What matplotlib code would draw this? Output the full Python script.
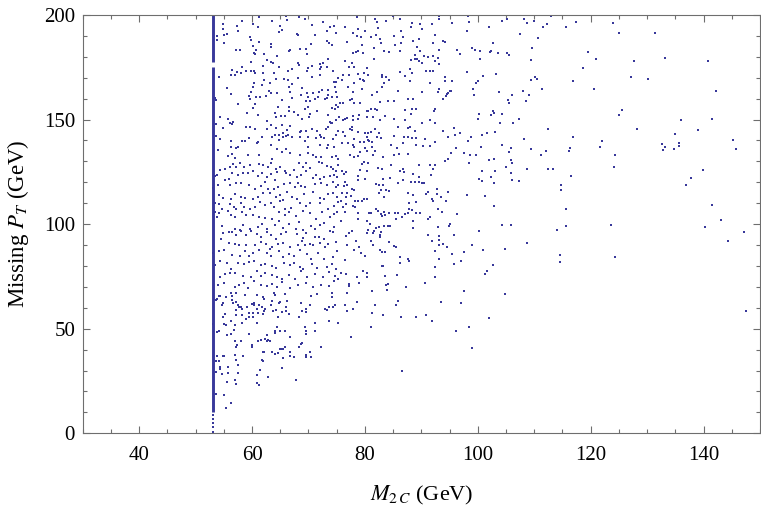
import numpy as np
import matplotlib
matplotlib.use("Agg")
import matplotlib.pyplot as plt
from matplotlib.ticker import MultipleLocator

plt.rcParams['font.family'] = ['Liberation Serif', 'DejaVu Serif']
plt.rcParams['mathtext.fontset'] = 'stix'

# ---- data (M2C [GeV], missing PT [GeV]) ----
# events sitting on the kinematic endpoint M2C = 53 GeV (dense vertical band)
endpoint_m2c = 53.0
endpoint_bands = [(10.3, 175.0), (177.7, 200.0)]
endpoint_low_pt = [0.8, 2.9, 4.8, 6.7, 8.7]

pts_top_left = [
 (54.4,200.8),(56.0,200.5),(56.7,200.5),(61.3,199.2),(63.4,200.8),(66.1,199.7),(68.3,198.9),(69.4,198.3),(71.4,200.8),(74.4,200.0),(74.9,200.5),
 (54.9,195.7),(57.4,194.7),(58.2,197.3),(60.1,195.7),(61.1,194.1),(63.6,197.0),(65.0,194.9),(66.2,197.6),(70.7,195.1),(72.5,196.5),(73.9,194.4),(74.5,194.7),
 (54.9,193.1),(53.8,190.0),(55.1,190.6),(55.5,190.9),(57.5,192.5),(59.7,189.6),(64.8,191.9),(65.3,192.8),(67.9,190.8),(68.2,190.3),(71.1,190.3),(73.3,192.5),(74.9,191.2),
 (53.8,188.0),(55.1,186.6),(59.9,188.0),(61.3,186.9),(63.3,186.1),(73.2,187.4),(73.7,186.8),
 (60.1,185.0),(57.1,183.3),(57.8,183.1),(60.3,182.0),(60.7,183.3),(62.1,181.5),(63.3,184.5),(64.4,180.4),(66.6,182.6),(66.8,183.4),(68.5,183.6),(69.6,183.9),(69.8,181.3),(70.5,186.0),(74.2,185.7),
 (59.9,177.7),(60.6,181.2),(62.7,178.6),(63.4,177.4),(63.7,176.9),(68.2,176.9),(68.3,176.2),(69.9,174.6),(72.1,176.6),(72.6,177.0),(73.5,179.0),
 (58.3,175.0),(57.4,172.7),(56.4,173.5),(58.1,172.1),(58.9,173.1),(59.8,173.1),(60.3,173.4),(60.6,172.1),(61.9,175.6),(62.0,172.4),(63.9,172.4),(64.8,175.0),(66.3,173.4),(67.0,174.3),(69.8,173.4),(70.7,175.6),(72.0,174.3),(72.2,175.3),(73.2,175.3),(74.4,173.4),
 (54.2,170.2),(55.5,164.9),(56.2,171.1),(57.0,171.1),(62.1,168.9),(63.1,167.6),(64.2,169.5),(65.7,169.5),(66.3,168.9),(67.0,167.0),(66.6,165.7),(68.2,169.9),(70.7,170.3),(72.1,171.1),(74.6,168.0),(74.9,168.1),(75.3,169.9),
 (56.3,162.2),(59.8,163.2),(60.2,165.4),(60.3,167.3),(61.8,166.5),(63.0,163.8),(63.3,162.8),(64.4,162.5),(66.7,163.2),(68.9,165.1),(69.8,162.5),(70.8,162.5),(71.8,163.2),(72.4,164.1),(73.5,164.1),(74.7,165.4),(74.9,163.2),
 (59.4,161.3),(59.6,159.7),(60.7,160.6),(61.4,160.6),(62.4,161.3),(65.3,159.3),(67.0,160.3),(68.6,161.6),(69.5,159.0),(69.9,160.6),(70.2,159.0),(71.2,160.0),(71.6,160.6),(73.0,160.0),(73.3,160.3),(73.5,161.9),(74.2,160.6),(75.1,160.6),(75.5,158.1),
 (53.4,160.1),(53.6,159.3),(57.6,157.4),(60.1,155.5),(60.6,157.4),(64.6,155.8),(66.6,156.1),(69.4,154.9),(69.9,156.1),(74.1,155.5),(74.7,155.2),(75.2,155.8),(74.9,156.9),
 (54.4,151.4),(53.6,147.9),(55.8,150.4),(56.1,148.2),(56.4,147.9),(56.7,148.8),(59.1,153.0),(61.1,152.0),(62.6,149.1),(64.1,153.0),(64.3,151.4),(65.2,151.7),(65.9,151.7),(66.5,153.9),(67.5,153.6),(68.2,152.0),(68.9,150.1),(70.1,151.4),(70.2,152.6),(71.5,154.2),(73.4,152.3),(73.8,148.8),(74.0,148.2),(74.8,149.8),(75.4,151.0),
 (54.9,146.0),(59.0,146.6),(59.7,146.3),(60.6,145.3),(62.6,145.3),(63.4,147.2),(64.2,146.0),(64.8,142.8),(65.3,147.5),(65.4,143.4),(66.2,145.0),(66.3,142.8),(66.7,146.9),(68.5,144.0),(68.7,144.3),(69.5,144.3),(70.0,141.5),(70.6,145.6),(71.5,144.7),(72.0,142.8),(73.1,145.3),(73.5,146.3),(74.2,148.2),(75.2,144.7),
 (53.6,142.1),(54.3,140.8),(56.2,139.6),(58.2,139.6),(58.7,139.6),(59.5,141.2),(61.1,139.2),(61.7,141.8),(63.5,141.8),(64.0,142.8),(64.8,140.2),(65.5,141.5),(66.0,142.1),(67.0,141.5),(68.5,141.5),(69.4,139.6),(71.3,141.2),(72.2,141.8),(72.7,141.2),(73.4,138.0),(74.4,140.5),(74.9,142.8),
 (54.0,135.4),(56.2,137.0),(57.1,136.4),(57.5,136.7),(60.9,138.6),(63.3,137.6),(64.4,136.1),(66.1,136.1),(70.0,136.7),(72.1,138.0),(73.2,136.4),(74.6,136.7),
]

pts_top_mid = [
 (78.6,198.9),(80.1,200.2),(81.7,197.9),(82.1,196.7),(83.2,200.2),(83.8,197.0),(84.9,199.5),(86.2,197.9),(88.4,196.0),(88.2,194.1),(89.0,200.8),(89.7,200.5),(89.7,195.7),(90.1,193.5),(91.8,200.8),(91.9,195.7),(92.3,200.2),(93.2,199.5),(93.2,198.3),(95.4,196.3),(98.2,199.5),(98.5,196.7),(98.1,192.5),
 (76.4,194.4),(77.9,191.2),(78.6,190.0),(78.8,193.1),(80.0,192.2),(79.3,189.3),(76.8,187.1),(79.4,185.8),(81.1,189.3),(81.9,190.3),(82.4,193.8),(82.6,188.7),(82.9,186.5),(81.6,184.2),(85.2,190.0),(86.4,192.2),(86.7,189.3),(86.4,186.8),(85.3,185.8),(88.6,187.7),(89.5,188.7),(92.4,190.3),(92.1,186.5),(93.8,187.7),(94.1,187.1),(93.2,183.3),(89.2,184.9),(89.7,182.9),
 (77.8,181.7),(78.4,182.3),(78.8,182.6),(79.7,181.7),(76.4,178.2),(77.7,176.9),(77.2,175.0),(78.0,175.0),(80.3,174.6),(81.6,178.8),(83.4,182.6),(84.3,182.3),(86.3,182.6),(88.8,181.0),(88.2,178.5),(88.9,179.1),(89.3,179.1),(89.5,177.8),(90.4,180.4),(91.1,180.1),(92.1,180.4),(93.0,179.4),(92.4,178.2),(93.1,176.6),(90.1,177.2),(92.1,173.4),(91.5,173.4),(90.8,173.1),(88.0,174.3),(88.3,172.1),(86.2,172.7),(87.1,170.8),(88.0,168.6),
 (96.3,183.3),(96.8,181.3),(98.9,184.2),(99.5,183.3),(98.0,172.7),(99.7,167.6),(100.1,168.3),(99.1,164.4),(99.3,161.6),(95.4,168.6),(94.2,170.2),(94.2,168.3),(91.5,167.3),(93.1,164.8),(93.0,163.2),(94.5,162.2),(95.0,163.8),(95.2,163.8),(94.8,162.8),(94.3,161.3),(93.8,159.7),
 (76.1,171.5),(77.2,171.5),(78.8,171.8),(79.8,172.1),(80.5,171.5),(83.1,171.5),(83.1,170.5),(83.7,170.2),(84.3,168.9),(79.6,168.9),(79.2,169.5),(79.8,168.6),(78.0,167.6),(76.0,168.9),(77.0,165.4),(77.8,163.2),(79.4,164.4),(82.1,163.2),(81.3,161.9),(83.3,167.3),(83.0,165.7),(85.9,163.5),(90.1,163.2),(88.5,159.7),(87.7,160.0),(84.0,158.7),(85.2,158.7),(82.7,158.4),(81.7,155.2),(80.3,154.2),(80.6,154.2),(81.0,154.9),(82.1,154.5),(77.7,160.0),(77.4,159.3),(79.1,157.7),(78.1,157.7),(76.1,157.7),
 (88.3,154.9),(87.1,154.5),(88.2,152.6),(89.1,155.2),(92.4,155.2),(92.2,153.9),(91.6,149.8),(90.2,148.5),(92.4,148.5),(87.1,149.8),(85.1,150.1),(83.6,151.7),(82.6,149.8),(81.4,151.0),(80.3,151.4),(78.9,152.3),(78.8,150.1),(77.9,151.7),(77.9,149.8),(76.1,149.8),(76.5,150.4),(76.8,150.7),
 (77.4,145.6),(77.7,146.3),(77.7,145.0),(76.2,144.0),(76.4,142.1),(78.8,144.0),(80.0,143.4),(80.5,143.4),(81.1,144.0),(81.8,145.3),(82.5,143.4),(82.1,141.8),(82.9,141.2),(80.7,139.6),(80.3,141.8),(80.5,140.2),(81.2,139.2),(79.9,139.2),(79.2,139.2),(78.1,140.5),(77.9,138.0),(78.0,137.0),(77.0,138.9),(76.0,138.9),(80.0,136.4),(81.2,137.0),
 (85.8,146.6),(87.7,145.9),(87.9,146.6),(88.8,144.7),(87.7,141.8),(88.4,141.2),(89.1,141.2),(85.2,142.1),(86.9,141.8),(86.8,138.6),(89.1,138.0),(90.6,140.5),(90.3,137.3),(91.6,137.3),(92.4,139.2),(93.8,144.3),(94.7,141.5),(95.8,146.0),(95.9,142.8),(96.9,143.4),(98.2,139.6),(98.8,141.8),(96.1,136.4),(100.2,152.6),(100.1,150.4),(84.7,138.0),(85.7,136.4),
]

pts_mid_left = [
 (55.7,132.6),(56.4,133.5),(56.9,131.6),(59.3,133.2),(61.3,133.2),(63.6,131.0),(65.3,134.5),(66.7,134.2),(68.5,133.2),(70.0,133.9),(70.8,132.9),(71.4,131.9),(72.2,132.3),(74.1,132.3),(74.9,132.6),(75.3,131.3),
 (54.4,125.9),(55.2,126.2),(56.1,127.5),(56.7,128.8),(57.2,127.2),(57.8,129.1),(58.5,127.5),(59.6,128.1),(61.3,128.8),(61.9,128.1),(62.9,127.2),(63.4,129.1),(64.3,126.5),(64.9,127.5),(65.9,125.6),(67.5,125.9),(68.3,129.4),(69.1,127.2),(69.6,129.1),(70.3,126.8),(71.8,129.7),(72.4,129.1),(73.2,127.8),(74.0,127.5),(74.4,126.2),(75.2,128.4),(74.9,125.2),
 (53.4,123.0),(53.8,123.6),(55.2,121.1),(56.0,121.7),(56.5,124.3),(57.6,123.6),(58.4,124.6),(59.3,124.3),(60.2,125.2),(61.1,123.0),(61.7,124.3),(62.6,122.4),(63.3,124.0),(64.1,121.1),(64.4,124.9),(66.0,124.6),(66.8,123.6),(68.0,122.4),(68.7,123.6),(69.5,125.6),(70.8,122.1),(71.4,123.6),(72.0,121.4),(72.8,122.4),(73.8,123.0),(74.5,123.6),(75.1,122.4),
 (53.1,117.3),(54.0,118.5),(56.1,118.9),(57.2,119.5),(58.0,119.8),(59.4,118.9),(60.6,116.9),(61.5,118.2),(62.3,120.1),(62.9,116.9),(63.9,116.6),(64.6,117.9),(65.6,119.2),(66.8,119.8),(67.6,117.9),(68.1,119.5),(68.7,118.2),(69.3,117.6),(71.2,119.2),(72.2,119.8),(73.2,118.9),(74.4,120.1),(74.9,117.6),(75.3,118.5),
 (54.1,114.1),(54.8,112.5),(56.2,111.8),(57.0,114.4),(58.0,113.1),(58.8,112.5),(60.2,112.2),(61.1,112.8),(62.0,114.7),(63.2,115.0),(64.2,113.1),(65.0,113.8),(65.5,111.5),(66.2,115.4),(67.0,113.1),(68.0,111.8),(69.2,114.4),(70.8,115.4),(72.0,112.5),(72.8,111.8),(73.5,114.4),(74.4,114.7),(75.1,113.1),
 (53.5,109.9),(54.2,109.6),(54.7,107.4),(56.1,109.6),(56.8,108.3),(57.2,107.4),(58.0,109.9),(58.5,108.3),(59.7,107.1),(60.6,108.3),(61.4,110.6),(62.3,109.0),(63.3,109.9),(63.9,108.0),(64.9,110.9),(65.9,107.1),(66.9,107.7),(68.5,109.9),(69.5,108.7),(70.2,109.9),(72.1,110.3),(73.5,107.4),(74.5,108.7),(75.2,110.6),
 (53.4,105.8),(53.8,103.5),(54.2,105.1),(55.7,106.1),(56.3,104.2),(56.9,103.2),(58.3,105.8),(59.0,104.5),(60.2,104.2),(61.3,103.5),(62.3,102.9),(63.6,102.3),(64.7,105.8),(65.9,104.2),(66.5,105.8),(67.8,103.9),(69.0,106.4),(70.2,105.1),(71.4,102.6),(72.4,105.8),(73.8,103.5),(75.1,105.8),(74.6,104.8),
 (54.7,99.1),(56.9,97.8),(57.8,97.2),(58.4,99.7),(59.6,97.5),(61.1,98.8),(61.8,100.0),(62.6,97.8),(64.1,99.4),(64.8,101.6),(65.5,98.1),(66.6,100.0),(67.8,97.8),(68.3,101.0),(69.0,97.2),(70.5,99.1),(71.1,97.8),(72.0,99.4),(72.7,100.4),(73.9,96.9),(74.6,98.5),
 (54.9,95.9),(56.0,96.2),(56.5,96.2),(57.1,94.6),(58.1,96.5),(59.0,94.6),(59.8,96.5),(60.8,95.3),(61.6,93.7),(62.6,96.2),(63.4,94.6),(64.3,93.0),(65.2,95.3),(66.0,96.2),(67.9,95.3),(69.0,93.3),(69.6,95.9),(71.2,93.7),(71.9,93.7),(72.7,92.7),(74.4,96.2),
 (54.5,92.7),(56.0,90.8),(56.9,90.5),(57.7,89.8),(59.0,90.1),(60.6,89.8),(61.5,91.4),(62.4,90.5),(63.1,88.2),(63.6,89.2),(64.6,90.5),(65.5,91.1),(66.7,89.2),(68.1,89.8),(68.8,91.8),(69.4,90.1),(70.2,90.5),(70.8,89.8),(72.0,91.1),(73.0,88.9),(73.5,90.5),(74.9,91.4),
 (53.1,86.0),(54.1,87.3),(55.0,87.6),(56.4,85.4),(57.8,85.0),(58.7,87.3),(59.5,84.7),(60.2,86.0),(61.3,87.6),(62.6,86.3),(63.4,85.0),(64.7,87.0),(65.5,84.4),(66.6,85.7),(67.4,84.7),(68.5,87.6),(69.8,85.7),(70.5,83.1),(71.6,86.0),(72.7,83.5),(74.4,84.1),(75.1,87.0),
 (53.4,80.6),(54.3,82.2),(55.5,81.5),(56.3,78.6),(57.6,81.2),(58.5,80.9),(59.5,81.9),(60.4,82.5),(61.5,80.3),(62.3,80.9),(63.5,79.9),(64.3,79.0),(65.7,81.2),(66.8,80.3),(67.4,81.5),(68.5,79.6),(69.0,78.7),(70.6,80.9),(71.5,79.0),(73.2,79.3),(74.1,80.9),(74.8,78.7),
 (54.3,74.9),(55.2,76.1),(56.1,76.8),(57.0,76.4),(58.4,75.2),(59.8,74.9),(60.8,77.4),(61.6,75.2),(62.3,76.8),(63.6,75.8),(64.4,74.5),(65.3,73.6),(66.5,75.8),(67.6,73.6),(68.6,77.4),(69.8,74.5),(71.1,76.1),(72.5,74.9),(73.7,77.1),(74.7,75.2),(75.3,73.6),
 (54.0,70.7),(55.0,72.0),(56.9,70.1),(57.7,71.0),(58.5,72.0),(59.3,69.7),(60.4,72.6),(61.5,70.7),(62.6,70.4),(63.5,71.6),(64.4,70.1),(65.3,72.3),(66.7,69.7),(68.1,71.0),(69.6,72.0),(70.8,70.1),(72.2,71.0),(73.7,70.4),(74.5,72.9),
]

pts_mid_mid = [
 (77.3,132.9),(78.0,132.3),(78.8,132.6),(79.2,134.5),(80.4,134.8),(81.4,132.9),(81.7,134.8),(83.2,132.3),(85.2,132.9),(86.0,133.5),(87.6,133.5),(95.2,134.2),(97.5,134.2),(98.7,133.2),(99.7,133.2),
 (79.4,128.8),(79.8,129.7),(80.6,129.1),(82.4,126.8),(83.1,126.2),(84.6,128.1),(89.6,128.4),(91.5,128.1),(92.5,128.4),(92.1,126.5),(94.8,131.3),(94.1,130.0),(98.4,129.4),
 (76.0,125.6),(76.6,124.9),(76.3,123.9),(79.1,125.9),(80.4,125.2),(86.8,126.5),(86.2,125.6),(87.0,124.9),(78.7,123.0),(78.8,121.1),(80.1,121.7),(83.2,121.7),(84.4,122.1),(88.5,123.9),(89.6,122.7),(91.7,123.6),(100.2,121.4),
 (76.5,120.1),(76.3,118.2),(76.8,118.5),(82.0,119.2),(82.5,118.9),(83.2,118.9),(85.9,119.8),(86.8,121.1),(88.2,120.1),(88.9,120.1),(89.5,120.1),(90.1,119.5),(90.4,119.8),(92.8,116.6),(92.7,114.4),(91.1,115.4),(90.9,114.4),(94.8,115.4),(98.1,114.1),
 (76.0,115.0),(76.8,115.0),(77.7,116.6),(78.1,116.3),(76.6,113.1),(77.5,113.4),(75.8,111.2),(78.3,110.9),(78.8,111.2),(79.4,110.9),(79.8,112.2),(80.3,112.2),(82.5,115.0),(82.9,116.3),(83.8,116.3),(84.3,115.9),(83.4,113.1),(87.7,115.0),(89.1,110.6),(88.5,113.8),(87.8,109.9),(91.9,112.2),(92.1,111.2),(93.4,113.1),(94.3,110.9),
 (76.7,109.6),(76.1,108.3),(77.9,108.7),(78.3,108.0),(76.5,105.8),(78.7,105.1),(80.7,105.5),(81.0,105.5),(82.0,107.4),(82.4,106.4),(82.9,104.8),(83.3,105.8),(83.6,104.2),(83.0,103.9),(84.3,105.1),(85.3,105.1),(85.9,105.1),(86.5,103.5),(87.1,104.8),(87.7,105.1),(87.8,107.4),(88.3,106.7),(89.0,105.5),(89.8,105.1),(91.2,102.6),(91.6,103.2),(93.0,107.4),(93.6,105.8),(96.3,104.8),
 (75.7,101.6),(78.7,102.6),(80.4,101.6),(80.9,100.0),(80.6,97.2),(80.3,95.9),(81.6,96.9),(81.4,95.9),(81.9,98.1),(82.5,98.8),(82.9,96.2),(82.7,94.6),(83.4,99.1),(84.0,99.1),(84.5,99.1),(85.5,102.3),(88.6,101.3),(88.6,98.1),(93.0,98.8),(94.9,99.1),(95.1,100.0),(100.2,96.5),(77.1,95.9),(77.7,96.5),(76.7,94.3),
 (78.4,91.8),(79.0,89.2),(78.1,87.6),(76.9,89.8),(81.0,91.8),(81.4,89.8),(82.7,93.7),(84.2,91.4),(85.1,89.5),(85.5,88.9),(91.1,94.6),(91.9,91.8),(93.1,94.3),(93.2,92.4),(93.9,90.5),(94.5,89.2),(93.1,89.8),(95.7,94.9),(92.4,87.3),(97.5,86.6),(99.0,89.8),
 (79.3,86.3),(80.0,84.7),(76.5,82.8),(82.6,87.6),(83.1,86.6),(83.6,86.6),(86.3,84.1),(86.2,81.5),(87.6,83.5),(87.8,82.2),(93.1,83.5),(95.4,85.7),(95.7,80.9),(97.1,82.2),
 (75.7,76.8),(76.6,76.1),(78.6,74.9),(79.7,77.4),(80.4,76.8),(80.4,74.5),(79.0,72.0),(77.1,71.3),(77.2,70.4),(83.0,79.9),(83.2,79.9),(83.6,75.2),(84.0,71.6),(83.8,71.0),(85.6,75.5),(87.3,70.1),(90.6,72.0),(92.4,79.3),(92.4,74.9),
]

pts_low_left = [
 (54.1,65.6),(54.4,65.6),(56.4,65.6),(55.4,65.0),(56.2,67.2),(57.1,67.2),(58.8,66.0),(60.8,66.0),(61.9,65.0),(63.9,67.2),(64.0,66.3),(65.9,66.6),(70.5,65.6),(71.5,66.6),(74.1,67.2),(74.2,65.3),
 (53.6,63.7),(53.8,64.0),(54.9,62.1),(54.7,61.2),(55.2,57.0),(54.9,55.7),(56.5,63.7),(56.7,62.1),(57.2,62.8),(57.5,61.2),(57.7,60.5),(58.0,60.2),(58.2,59.6),(57.1,58.9),(57.2,56.4),(58.2,56.7),(59.1,60.5),(60.0,61.8),(60.3,62.1),(60.4,61.2),(60.9,59.6),(61.3,61.5),(61.7,60.5),(62.1,64.0),(62.3,59.6),(63.4,61.2),(63.5,63.1),(64.7,62.4),(65.0,62.8),(66.0,60.5),(66.2,63.1),(64.3,58.9),(65.3,58.0),(66.1,58.3),(66.6,57.0),(59.5,57.7),(59.4,55.7),(60.1,55.7),(60.2,57.7),(61.0,57.3),(61.9,57.0),(62.1,58.6),(63.7,58.6),(64.6,55.7),(68.6,62.1),(68.8,58.6),(69.5,59.3),(70.3,61.5),(73.0,59.6),(73.2,58.9),(73.7,60.2),(74.4,60.5),(74.7,61.2),(68.3,55.7),(69.6,58.0),
 (53.1,52.2),(54.1,49.0),(53.8,48.4),(55.0,52.2),(55.4,51.9),(55.5,46.8),(56.3,53.8),(56.9,51.9),(56.8,49.4),(56.2,47.4),(58.2,52.9),(59.0,54.8),(59.5,47.4),(60.8,52.9),(61.1,44.3),(61.5,44.6),(62.3,44.9),(62.6,47.1),(62.6,44.3),(62.9,44.6),(63.1,44.3),(64.1,48.1),(64.0,48.7),(64.4,51.0),(64.9,48.7),(65.9,49.0),(66.7,46.2),(69.4,51.0),(69.5,49.0),(69.6,47.4),(71.1,52.5),(71.1,48.7),(73.7,53.5),(75.2,52.9),
 (56.9,44.3),(58.1,44.3),(57.1,41.1),(57.4,42.0),(57.0,37.2),(57.1,35.0),(53.8,36.9),(54.9,36.9),(55.1,36.9),(53.7,34.4),(54.1,34.4),(54.3,31.8),(54.4,30.9),(53.6,29.3),(54.7,28.3),(55.7,31.5),(55.7,29.0),(57.6,28.6),(57.6,32.8),(58.4,36.9),(60.0,42.0),(60.0,41.1),(61.9,38.8),(62.2,38.8),(61.7,35.0),(61.9,34.4),(63.6,38.8),(64.1,37.9),(64.6,38.2),(64.9,40.1),(65.3,40.1),(65.5,40.4),(65.9,41.1),(65.4,36.0),(66.7,38.8),(66.7,36.9),(67.4,36.3),(68.3,41.1),(68.6,42.7),(68.9,43.0),(69.5,37.2),(69.6,36.6),(70.2,38.8),(70.4,36.6),(72.2,41.4),(65.3,31.2),
 (61.4,30.2),(60.8,27.7),(60.9,24.2),(61.3,23.2),(62.8,27.0),(67.7,25.4),(55.5,24.5),(57.0,25.4),(57.1,23.8),(53.6,18.7),(55.0,18.1),(56.3,14.3),(55.4,12.0),
]

pts_low_mid = [
 (76.8,66.9),(81.3,67.9),(83.9,68.3),(76.5,61.5),(78.6,62.8),(76.8,58.3),(77.8,59.6),(81.7,61.5),(81.2,57.3),(83.2,56.4),(85.9,63.4),(85.5,61.2),(86.4,55.4),(89.0,55.7),(90.8,56.4),(91.8,53.8),(93.4,62.8),(97.0,62.4),(97.5,68.2),(81.1,51.0),(77.5,45.9),(96.1,48.7),(98.4,51.0),(99.0,40.7),(86.6,29.9),
]

pts_right_upper = [
 (105.2,198.3),(104.3,197.0),(108.2,198.3),(108.8,196.0),(110.0,197.0),(110.7,200.8),(112.9,199.5),(111.6,194.4),(112.2,195.7),(115.7,194.1),(117.4,196.7),(123.9,196.0),(102.0,194.1),(107.4,190.9),(110.6,189.0),(125.1,191.6),(131.4,191.2),(102.7,186.5),
 (100.4,182.6),(102.1,182.3),(102.3,182.9),(103.5,182.0),(105.2,181.7),(105.6,180.7),(109.6,184.2),(109.5,178.5),(100.4,178.8),(119.6,182.3),(120.9,178.8),(127.6,178.2),(133.2,179.4),(140.8,177.8),(118.6,174.6),(103.3,171.8),(100.9,170.8),
 (109.5,168.9),(110.1,170.2),(110.4,169.2),(116.8,168.3),(127.1,170.2),(130.1,169.2),(111.4,164.8),(120.6,164.8),(142.2,163.8),(103.7,163.2),(106.0,161.9),(108.0,163.5),(109.1,161.9),(105.3,159.3),(105.6,158.1),(108.6,158.7),
 (102.7,154.2),(102.9,153.0),(102.4,152.0),(104.2,152.6),(125.6,154.5),(125.0,152.0),(136.0,149.8),(141.5,150.1),(103.9,148.5),(106.3,148.5),(107.3,150.4),(112.5,145.6),(128.2,145.6),(139.1,145.0),(103.0,144.0),(101.6,143.7),(100.8,142.4),(116.8,141.8),(108.2,140.8),(122.0,139.9),(134.9,143.1),(145.2,140.2),
 (100.6,136.7),(104.2,138.0),(105.9,136.4),(105.6,134.5),(109.4,135.7),(112.0,134.8),(111.2,132.9),(116.4,136.4),(116.1,134.8),(121.6,136.7),(124.3,132.9),(132.6,138.3),(133.2,137.0),(132.8,135.4),(134.8,136.1),(135.6,138.9),(135.6,137.3),(145.8,135.7),
 (101.9,130.6),(102.8,131.3),(105.9,130.9),(106.1,129.0),(105.0,127.4),(108.8,126.2),(112.5,126.5),(113.3,126.2),(124.2,127.4),(139.9,125.8),(100.7,125.5),(103.0,125.2),(105.9,124.3),(116.6,123.0),(102.4,122.3),(100.8,120.4),(102.9,119.5),(106.1,121.1),(107.3,120.7),(114.8,118.8),(114.8,116.3),(137.7,122.0),(136.9,118.5),
 (101.3,113.4),(102.9,108.6),(115.7,107.3),(141.5,109.3),(143.0,102.2),
]

pts_right_lower = [
 (104.3,99.4),(105.9,99.6),(114.1,97.2),(115.7,99.1),(123.6,99.6),(140.2,98.5),(147.2,96.3),(144.4,92.1),(108.8,91.2),(100.9,87.6),(104.9,88.3),(114.6,85.1),(114.6,81.9),(124.3,84.1),(101.3,76.2),(101.7,77.4),(102.7,80.3),(104.9,66.6),(102.0,55.3),(147.5,58.6),
]

x_ticks = [40, 60, 80, 100, 120, 140]
y_ticks = [0, 50, 100, 150, 200]

# ---- figure ----
dot_color = '#38389a'
frame_color = '#6e6e6e'

fig = plt.figure(figsize=(7.61, 5.13), dpi=100)
ax = fig.add_axes([0.1087, 0.1554, 0.8900, 0.8154])

groups = [pts_top_left, pts_top_mid, pts_mid_left, pts_mid_mid,
          pts_low_left, pts_low_mid, pts_right_upper, pts_right_lower]
allpts = np.array([p for g in groups for p in g])
ax.plot(allpts[:, 0], allpts[:, 1], linestyle='none', marker='s',
        markersize=2.05, markeredgewidth=0, color=dot_color)

for lo, hi in endpoint_bands:
    ax.plot([endpoint_m2c, endpoint_m2c], [lo, hi], color=dot_color,
            linewidth=2.1, solid_capstyle='butt')
ax.plot([endpoint_m2c] * len(endpoint_low_pt), endpoint_low_pt,
        linestyle='none', marker='s', markersize=2.1, markeredgewidth=0,
        color=dot_color)

ax.set_xlim(30, 150)
ax.set_ylim(0, 200)
ax.set_xticks(x_ticks)
ax.set_yticks(y_ticks)
ax.xaxis.set_minor_locator(MultipleLocator(5))
ax.yaxis.set_minor_locator(MultipleLocator(10))

for s in ax.spines.values():
    s.set_color(frame_color)
    s.set_linewidth(0.8)

ax.tick_params(which='both', direction='in', top=True, right=True,
               color=frame_color, width=0.8, labelsize=15, labelcolor='black')
ax.tick_params(which='major', length=5.3)
ax.tick_params(which='minor', length=3.2)
ax.tick_params(axis='x', which='major', pad=9.5)
ax.tick_params(axis='y', which='major', pad=5.5)

ax.set_xlabel(r'$M_{2\,C}$ (GeV)', fontsize=16, labelpad=13)
ax.set_ylabel(r'Missing $P_T$ (GeV)', fontsize=16.5, labelpad=9)

fig.savefig('out.png', dpi=100)
